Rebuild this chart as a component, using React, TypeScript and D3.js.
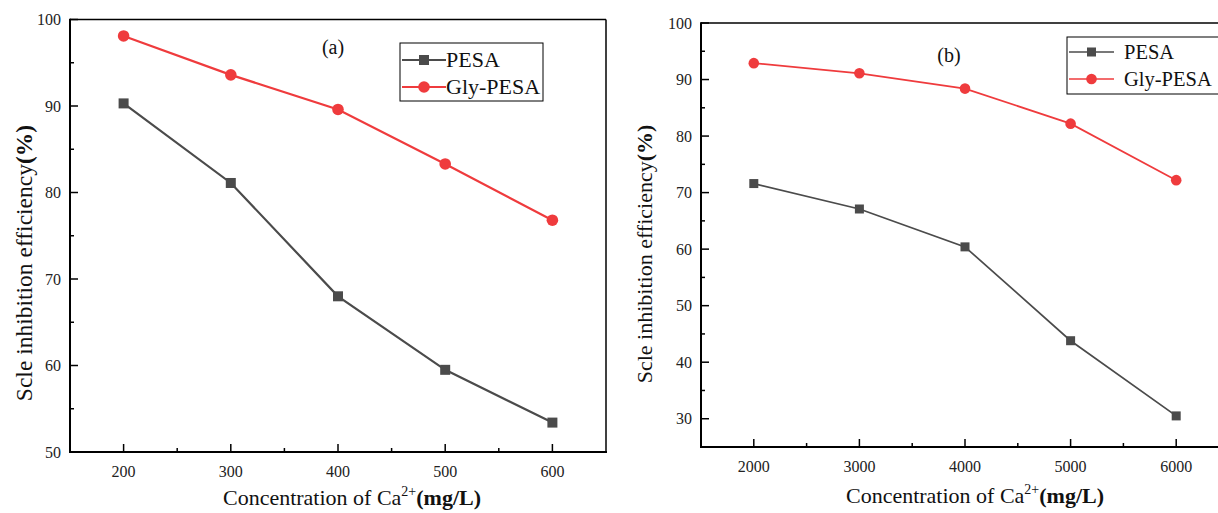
import React from "react";
import * as d3 from "d3";

// ---------- data ----------
const concA = [200, 300, 400, 500, 600];
const pesaA = [90.3, 81.1, 68.0, 59.5, 53.4];
const glyA = [98.1, 93.6, 89.6, 83.3, 76.8];

const concB = [2000, 3000, 4000, 5000, 6000];
const pesaB = [71.6, 67.1, 60.4, 43.8, 30.5];
const glyB = [92.9, 91.1, 88.4, 82.2, 72.2];

const yTicksA = [50, 60, 70, 80, 90, 100];
const yTicksB = [30, 40, 50, 60, 70, 80, 90, 100];

const seriesNames = ["PESA", "Gly-PESA"];
const COL_PESA = "#4b4b4b";
const COL_GLY = "#ef3b3d";
const FONT = "Liberation Serif";

type PanelProps = {
  x: number[];
  s1: number[];
  s2: number[];
  xDomain: [number, number];
  yDomain: [number, number];
  yTicks: number[];
  box: { l: number; t: number; r: number; b: number };
  label: string;
  labelPos: [number, number];
  legend: { x: number; y: number; w: number; h: number; lineLen: number; textX: number; rowY: [number, number]; fs: number };
  yTitlePos: [number, number];
  yTitleSize: number;
  xTitlePos: [number, number];
  lw: number;
  ms: number;
};

function Panel(p: PanelProps) {
  const xs = d3.scaleLinear().domain(p.xDomain).range([p.box.l, p.box.r]);
  const ys = d3.scaleLinear().domain(p.yDomain).range([p.box.b, p.box.t]);
  const line = d3
    .line<[number, number]>()
    .x((d) => xs(d[0]))
    .y((d) => ys(d[1]));
  const d1 = line(p.x.map((v, i) => [v, p.s1[i]] as [number, number])) || "";
  const d2 = line(p.x.map((v, i) => [v, p.s2[i]] as [number, number])) || "";
  const step = p.x[1] - p.x[0];
  const xMinor = p.x.map((v) => v + step / 2).filter((v) => v < p.xDomain[1]);
  const yStep = p.yTicks[1] - p.yTicks[0];
  const yMinor = p.yTicks.map((v) => v - yStep / 2).filter((v) => v > p.yDomain[0]);
  const hs = p.ms / 2;
  const lg = p.legend;
  return (
    <g>
      {/* series */}
      <path d={d1} fill="none" stroke={COL_PESA} strokeWidth={p.lw} />
      <path d={d2} fill="none" stroke={COL_GLY} strokeWidth={p.lw} />
      {p.x.map((v, i) => (
        <rect key={"s" + i} x={xs(v) - hs} y={ys(p.s1[i]) - hs} width={p.ms} height={p.ms} fill={COL_PESA} />
      ))}
      {p.x.map((v, i) => (
        <circle key={"c" + i} cx={xs(v)} cy={ys(p.s2[i])} r={hs + 0.8} fill={COL_GLY} />
      ))}
      {/* frame */}
      <line x1={p.box.l} x2={p.box.r} y1={p.box.t} y2={p.box.t} stroke="#000" strokeWidth={1.5} />
      <line x1={p.box.r} x2={p.box.r} y1={p.box.t} y2={p.box.b} stroke="#000" strokeWidth={1.5} />
      <line x1={p.box.l} x2={p.box.r + 1} y1={p.box.b} y2={p.box.b} stroke="#000" strokeWidth={2} />
      <line x1={p.box.l} x2={p.box.l} y1={p.box.t - 0.75} y2={p.box.b + 1} stroke="#000" strokeWidth={2} />
      {/* x ticks */}
      {p.x.map((v) => (
        <g key={"xt" + v}>
          <line x1={xs(v)} x2={xs(v)} y1={p.box.b} y2={p.box.b - 8} stroke="#000" strokeWidth={1.5} />
          <text x={xs(v)} y={p.box.b + 25} textAnchor="middle" fontSize={16} fontFamily={FONT} fill="#222">
            {v}
          </text>
        </g>
      ))}
      {xMinor.map((v) => (
        <line key={"xm" + v} x1={xs(v)} x2={xs(v)} y1={p.box.b} y2={p.box.b - 4} stroke="#000" strokeWidth={1.5} />
      ))}
      {/* y ticks */}
      {p.yTicks.map((v) => (
        <g key={"yt" + v}>
          <line x1={p.box.l} x2={p.box.l + 8} y1={ys(v)} y2={ys(v)} stroke="#000" strokeWidth={1.5} />
          <text x={p.box.l - 9} y={ys(v) + 5.5} textAnchor="end" fontSize={16} fontFamily={FONT} fill="#222">
            {v}
          </text>
        </g>
      ))}
      {yMinor.map((v) => (
        <line key={"ym" + v} x1={p.box.l} x2={p.box.l + 4} y1={ys(v)} y2={ys(v)} stroke="#000" strokeWidth={1.5} />
      ))}
      {/* panel label */}
      <text x={p.labelPos[0]} y={p.labelPos[1]} textAnchor="middle" fontSize={20} fontFamily={FONT} fill="#111">
        {p.label}
      </text>
      {/* legend */}
      <rect x={lg.x} y={lg.y} width={lg.w} height={lg.h} fill="#fff" stroke="#000" strokeWidth={1} />
      <line x1={lg.x + 2} x2={lg.x + 2 + lg.lineLen} y1={lg.rowY[0]} y2={lg.rowY[0]} stroke={COL_PESA} strokeWidth={p.lw} />
      <rect x={lg.x + 2 + lg.lineLen / 2 - hs} y={lg.rowY[0] - hs} width={p.ms} height={p.ms} fill={COL_PESA} />
      <line x1={lg.x + 2} x2={lg.x + 2 + lg.lineLen} y1={lg.rowY[1]} y2={lg.rowY[1]} stroke={COL_GLY} strokeWidth={p.lw} />
      <circle cx={lg.x + 2 + lg.lineLen / 2} cy={lg.rowY[1]} r={hs + 0.8} fill={COL_GLY} />
      {seriesNames.map((n, i) => (
        <text key={n} x={lg.textX} y={lg.rowY[i] + 7} fontSize={lg.fs} fontFamily={FONT} fill="#111">
          {n}
        </text>
      ))}
      {/* axis titles */}
      <text
        transform={`translate(${p.yTitlePos[0]},${p.yTitlePos[1]}) rotate(-90)`}
        textAnchor="middle"
        fontSize={p.yTitleSize}
        fontFamily={FONT}
        fill="#111"
      >
        Scle inhibition efficiency<tspan fontWeight="bold">(%)</tspan>
      </text>
      <text x={p.xTitlePos[0]} y={p.xTitlePos[1]} textAnchor="middle" fontSize={22} fontFamily={FONT} fill="#111">
        Concentration of Ca
        <tspan fontSize={14} dy={-9}>
          2+
        </tspan>
        <tspan fontWeight="bold" dy={9}>
          (mg/L)
        </tspan>
      </text>
    </g>
  );
}

export default function App() {
  return (
    <svg
      width={1218}
      height={513}
      style={{ position: "absolute", left: 0, top: 0, background: "#fff" }}
    >
      <rect x={0} y={0} width={1218} height={513} fill="#fff" />
      <Panel
        x={concA}
        s1={pesaA}
        s2={glyA}
        xDomain={[150, 650]}
        yDomain={[50, 100]}
        yTicks={yTicksA}
        box={{ l: 70, t: 19.5, r: 606, b: 452 }}
        label="(a)"
        labelPos={[333, 54]}
        legend={{ x: 400, y: 43, w: 143, h: 58, lineLen: 44, textX: 446, rowY: [60, 87], fs: 22 }}
        yTitlePos={[32, 263]}
        yTitleSize={23.5}
        xTitlePos={[352, 505]}
        lw={2.2}
        ms={10}
      />
      <Panel
        x={concB}
        s1={pesaB}
        s2={glyB}
        xDomain={[1500, 6500]}
        yDomain={[25, 100]}
        yTicks={yTicksB}
        box={{ l: 701, t: 23, r: 1229, b: 447 }}
        label="(b)"
        labelPos={[949, 62]}
        legend={{ x: 1067, y: 37, w: 168, h: 57, lineLen: 45, textX: 1124, rowY: [52, 79], fs: 20.5 }}
        yTitlePos={[652, 254]}
        yTitleSize={22}
        xTitlePos={[975, 503]}
        lw={1.7}
        ms={9}
      />
    </svg>
  );
}
